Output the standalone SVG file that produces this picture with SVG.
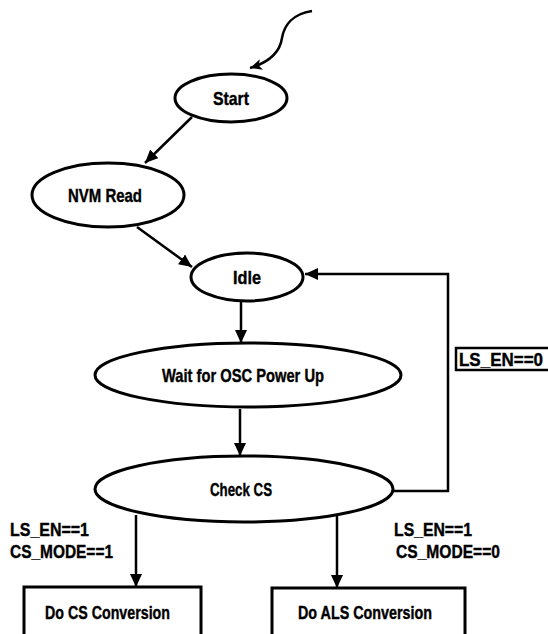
<svg xmlns="http://www.w3.org/2000/svg" width="548" height="634" viewBox="0 0 548 634">
<defs>
<marker id="ah" markerUnits="userSpaceOnUse" markerWidth="14" markerHeight="12" refX="13" refY="6" orient="auto">
<path d="M0,0 L13,6 L0,12 z" fill="#000"/>
</marker>
<marker id="ahs" markerUnits="userSpaceOnUse" markerWidth="13" markerHeight="11" refX="12" refY="5.5" orient="auto">
<path d="M0,0 L12,5.5 L0,11 L3,5.5 z" fill="#000"/>
</marker>
<style>
.n{fill:#fff;stroke:#000;stroke-width:3}
.t{font-family:"Liberation Sans",Arial,sans-serif;font-weight:bold;font-size:19px;fill:#000;stroke:#000;stroke-width:0.4}
.c{stroke:#000;stroke-width:2.5;fill:none}
</style>
</defs>
<rect width="548" height="634" fill="#fff"/>
<g id="connectors">
<path class="c" d="M312,11 C292,14 284,26 282,38 C280,52 270,62 250,68" stroke-width="2.2" marker-end="url(#ahs)"/>
<line class="c" x1="192" y1="117" x2="145" y2="163" marker-end="url(#ah)"/>
<line class="c" x1="137" y1="227" x2="192" y2="267" marker-end="url(#ah)"/>
<line class="c" x1="241" y1="300" x2="241" y2="343" marker-end="url(#ah)"/>
<line class="c" x1="240" y1="409" x2="240" y2="456" marker-end="url(#ah)"/>
<polyline class="c" points="393,491 448,491 448,274 305,274" marker-end="url(#ah)"/>
<line class="c" x1="136" y1="515" x2="136" y2="587" marker-end="url(#ah)"/>
<line class="c" x1="337" y1="516" x2="337" y2="588" marker-end="url(#ah)"/>
</g>
<g id="label-ls-en-0">
<rect x="456" y="348" width="96" height="22" fill="#fff" stroke="#000" stroke-width="2.5"/>
<text class="t" x="459" y="366" textLength="84" lengthAdjust="spacingAndGlyphs">LS_EN==0</text>
</g>
<g id="label-left">
<text class="t" x="10" y="536" textLength="79" lengthAdjust="spacingAndGlyphs">LS_EN==1</text>
<text class="t" x="10" y="558" textLength="103" lengthAdjust="spacingAndGlyphs">CS_MODE==1</text>
</g>
<g id="label-right">
<text class="t" x="394" y="536" textLength="78" lengthAdjust="spacingAndGlyphs">LS_EN==1</text>
<text class="t" x="396" y="558" textLength="104" lengthAdjust="spacingAndGlyphs">CS_MODE==0</text>
</g>
<g id="start">
<ellipse class="n" cx="231" cy="98" rx="56" ry="24"/>
<text class="t" x="213" y="105" textLength="36" lengthAdjust="spacingAndGlyphs">Start</text>
</g>
<g id="nvm-read">
<ellipse class="n" cx="108" cy="195" rx="76" ry="32"/>
<text class="t" x="68" y="202" textLength="74" lengthAdjust="spacingAndGlyphs">NVM Read</text>
</g>
<g id="idle">
<ellipse class="n" cx="247" cy="277" rx="56" ry="24"/>
<text class="t" x="233" y="284" textLength="28" lengthAdjust="spacingAndGlyphs">Idle</text>
</g>
<g id="wait-osc">
<ellipse class="n" cx="248" cy="375" rx="153" ry="32"/>
<text class="t" x="162" y="382" textLength="162" lengthAdjust="spacingAndGlyphs">Wait for OSC Power Up</text>
</g>
<g id="check-cs">
<ellipse class="n" cx="244" cy="489" rx="149" ry="33"/>
<text class="t" x="210" y="496" textLength="62" lengthAdjust="spacingAndGlyphs">Check CS</text>
</g>
<g id="do-cs">
<rect class="n" x="24" y="587" width="177" height="60"/>
<text class="t" x="45" y="619" textLength="125" lengthAdjust="spacingAndGlyphs">Do CS Conversion</text>
</g>
<g id="do-als">
<rect class="n" x="272" y="588" width="193" height="60"/>
<text class="t" x="298" y="619" textLength="134" lengthAdjust="spacingAndGlyphs">Do ALS Conversion</text>
</g>
</svg>
